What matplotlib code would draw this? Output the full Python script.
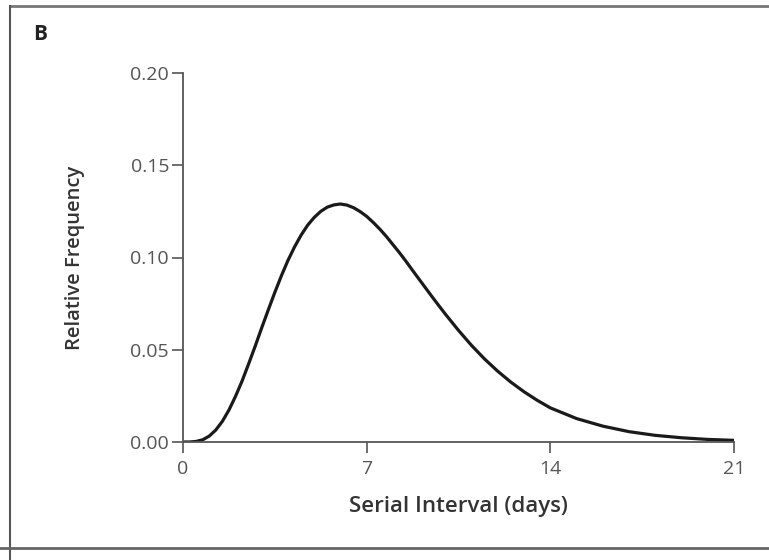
import numpy as np
import matplotlib.pyplot as plt
from matplotlib.lines import Line2D

# Кривая плотности, значения
days = [0, 0.25, 0.5, 0.75, 1, 1.25, 1.5, 1.75, 2, 2.25, 2.5, 2.75, 3, 3.25,
        3.5, 3.75, 4, 4.25, 4.5, 4.75, 5, 5.25, 5.5, 5.75, 6, 6.25, 6.5, 6.75,
        7, 7.25, 7.5, 7.75, 8, 8.25, 8.5, 8.75, 9, 9.25, 9.5, 9.75, 10, 10.5,
        11, 11.5, 12, 12.5, 13, 13.5, 14, 15, 16, 17, 18, 19, 20, 21]
freq = [0.0, 0.0000, 0.0003, 0.0012, 0.0032, 0.0065, 0.0112, 0.0173, 0.0247,
        0.0330, 0.0423, 0.0519, 0.0619, 0.0716, 0.0811, 0.0901, 0.0984, 0.1057,
        0.1121, 0.1175, 0.1217, 0.1250, 0.1273, 0.1285, 0.1290, 0.1284, 0.1270,
        0.1249, 0.1223, 0.1190, 0.1154, 0.1114, 0.1070, 0.1026, 0.0979, 0.0930,
        0.0882, 0.0834, 0.0786, 0.0739, 0.0693, 0.0605, 0.0523, 0.0449, 0.0383,
        0.0324, 0.0272, 0.0226, 0.0185, 0.0127, 0.0086, 0.0056, 0.0036, 0.0023,
        0.0014, 0.0009]

x_ticks = [0, 7, 14, 21]
y_ticks = [0.00, 0.05, 0.10, 0.15, 0.20]
y_labels = ["0.00", "0.05", "0.10", "0.15", "0.20"]

plt.rcParams['font.family'] = ['Open Sans', 'DejaVu Sans']

fig = plt.figure(figsize=(7.69, 5.6), dpi=100)
ax = fig.add_axes([183 / 769, 1 - 442 / 560, (734 - 183) / 769, (442 - 73) / 560])

ax.plot(days, freq, color='#1a1a1a', linewidth=2.3, solid_capstyle='round',
        solid_joinstyle='round')

ax.set_xlim(0, 21)
ax.set_ylim(0, 0.20)
ax.set_xticks(x_ticks)
ax.set_yticks(y_ticks)
ax.set_yticklabels(y_labels)

for side in ['top', 'right']:
    ax.spines[side].set_visible(False)
for side in ['left', 'bottom']:
    ax.spines[side].set_color('#555555')
    ax.spines[side].set_linewidth(1.3)

ax.tick_params(axis='both', direction='out', length=8, width=1.2, color='#555555',
               labelsize=14, labelcolor='#555555', pad=2)
ax.tick_params(axis='x', pad=5)

ax.set_xlabel("Serial Interval (days)", fontsize=16, fontweight='semibold',
              color='#333333', labelpad=13)
ax.set_ylabel("Relative Frequency", fontsize=14.5, fontweight='semibold',
              color='#333333', va='center')
ax.yaxis.set_label_coords(-0.196, 0.5)

# Подпись панели
fig.text(40 / 769, 1 - 34 / 560, "B", fontsize=15, fontweight='bold',
         color='#222222', ha='center', va='center')

# Рамка панели
fig.add_artist(Line2D([10 / 769, 1.0], [1 - 6 / 560, 1 - 6 / 560],
                      transform=fig.transFigure, color='#777777', linewidth=2))
fig.add_artist(Line2D([10 / 769, 10 / 769], [0, 1 - 6 / 560],
                      transform=fig.transFigure, color='#555555', linewidth=1.5))
fig.add_artist(Line2D([0, 1.0], [1 - 548 / 560, 1 - 548 / 560],
                      transform=fig.transFigure, color='#666666', linewidth=2))

fig.savefig('out.png', dpi=100)
